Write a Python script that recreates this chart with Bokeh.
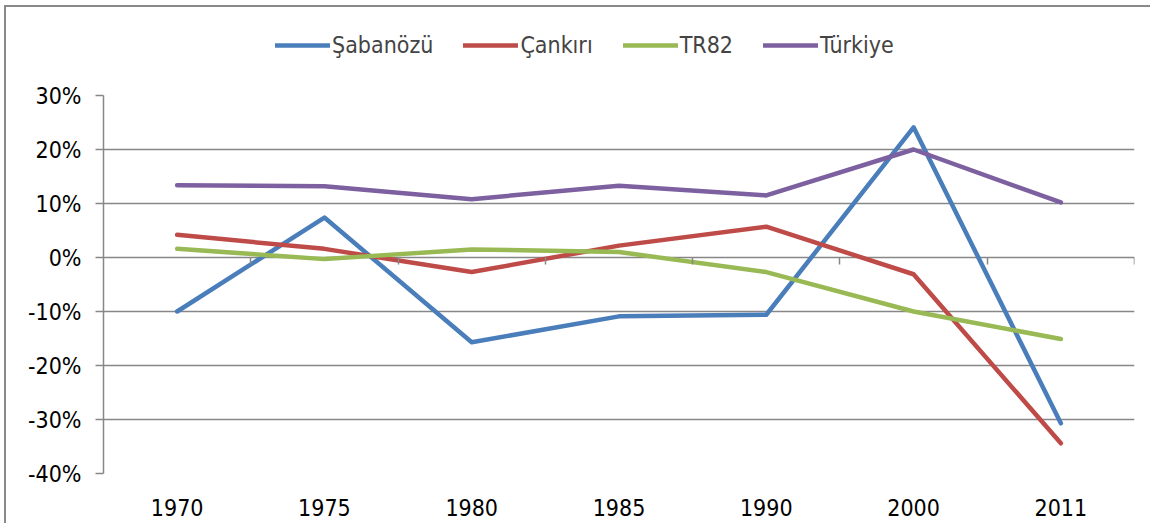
from bokeh.plotting import figure
from bokeh.layouts import column
from bokeh.models import (FactorRange, Range1d, FixedTicker, LinearAxis, Legend,
                          LegendItem, PrintfTickFormatter)
from bokeh.embed import file_html
from bokeh.resources import INLINE

# ---- data ----
years = ["1970", "1975", "1980", "1985", "1990", "2000", "2011"]
sabanozu = [-10.0, 7.4, -15.7, -10.9, -10.6, 24.1, -30.7]
cankiri = [4.2, 1.6, -2.7, 2.2, 5.7, -3.1, -34.4]
tr82 = [1.6, -0.3, 1.5, 1.0, -2.7, -10.0, -15.1]
turkiye = [13.4, 13.2, 10.8, 13.3, 11.5, 20.0, 10.2]
series_names = ["Şabanözü", "Çankırı", "TR82", "Türkiye"]
y_ticks = [-40, -30, -20, -10, 0, 10, 20, 30]
category_bounds = [1, 2, 3, 4, 5, 6, 7]

FONT = "DejaVu Sans Condensed"
FSIZE = "23px"
GRID = "#878787"
COLORS = ["#4A7EBB", "#BE4B48", "#98B954", "#7D60A0"]
series = [sabanozu, cankiri, tr82, turkiye]

W = 1144
TOP_H = 72
MAIN_TOP = 16

# ---- legend strip (top) ----
top = figure(width=W, height=TOP_H,
             x_range=FactorRange(factors=years, range_padding=0),
             y_range=Range1d(1000, 1001),
             x_axis_type=None, y_axis_type=None,
             output_backend="svg", toolbar_location=None,
             min_border_left=0, min_border_right=0, min_border_top=0, min_border_bottom=0)
top.outline_line_color = None
top.grid.grid_line_color = None
top_renderers = []
for vals, col in zip(series, COLORS):
    r = top.line(years, vals, line_color=col, line_width=4.5, line_cap="round")
    top_renderers.append(r)
legend = Legend(items=[LegendItem(label=n, renderers=[r]) for n, r in zip(series_names, top_renderers)],
                orientation="horizontal", location=(172, 21),
                glyph_width=55, glyph_height=20, label_standoff=2, spacing=30,
                padding=0, margin=0, border_line_color=None, background_fill_alpha=0,
                label_text_font=FONT, label_text_font_size=FSIZE)
top.add_layout(legend)

# ---- main chart ----
p = figure(width=W, height=516 - TOP_H,
           x_range=FactorRange(factors=years, range_padding=0),
           y_range=Range1d(-40, 30),
           output_backend="svg", toolbar_location=None,
           min_border_left=97, min_border_right=16,
           min_border_top=MAIN_TOP, min_border_bottom=50)
p.outline_line_color = None
p.background_fill_color = "white"
p.border_fill_color = "white"

yax = p.yaxis[0]
yax.ticker = FixedTicker(ticks=y_ticks)
yax.formatter = PrintfTickFormatter(format="%d%%")
yax.axis_line_color = GRID
yax.axis_line_width = 1.5
yax.major_tick_line_color = GRID
yax.major_tick_line_width = 1.5
yax.major_tick_out = 8
yax.major_tick_in = 0
yax.minor_tick_line_color = None
yax.major_label_text_font = FONT
yax.major_label_text_font_size = FSIZE
yax.major_label_text_color = "black"
yax.major_label_standoff = 14

p.ygrid.ticker = FixedTicker(ticks=y_ticks)
p.ygrid.grid_line_color = GRID
p.ygrid.grid_line_width = 1.5
p.xgrid.grid_line_color = None

xax = p.xaxis[0]
xax.axis_line_color = None
xax.major_tick_line_color = None
xax.minor_tick_line_color = None
xax.major_label_text_font = FONT
xax.major_label_text_font_size = FSIZE
xax.major_label_text_color = "black"
xax.major_label_standoff = 19

zax = LinearAxis(fixed_location=0, ticker=FixedTicker(ticks=category_bounds))
zax.axis_line_color = None
zax.major_tick_line_color = GRID
zax.major_tick_line_width = 1.5
zax.major_tick_out = 7
zax.major_tick_in = 0
zax.minor_tick_line_color = None
zax.major_label_text_font_size = "0px"
zax.major_label_text_alpha = 0
p.add_layout(zax, "below")

for vals, col in zip(series, COLORS):
    p.line(years, vals, line_color=col, line_width=4.5,
           line_cap="round", line_join="round")

layout = column(top, p, spacing=0)
layout.styles = {"margin-left": "4px", "margin-top": "5px",
                 "border-top": "2px solid #898989", "border-left": "2px solid #898989"}

open("out.html", "w").write(file_html(layout, INLINE))
